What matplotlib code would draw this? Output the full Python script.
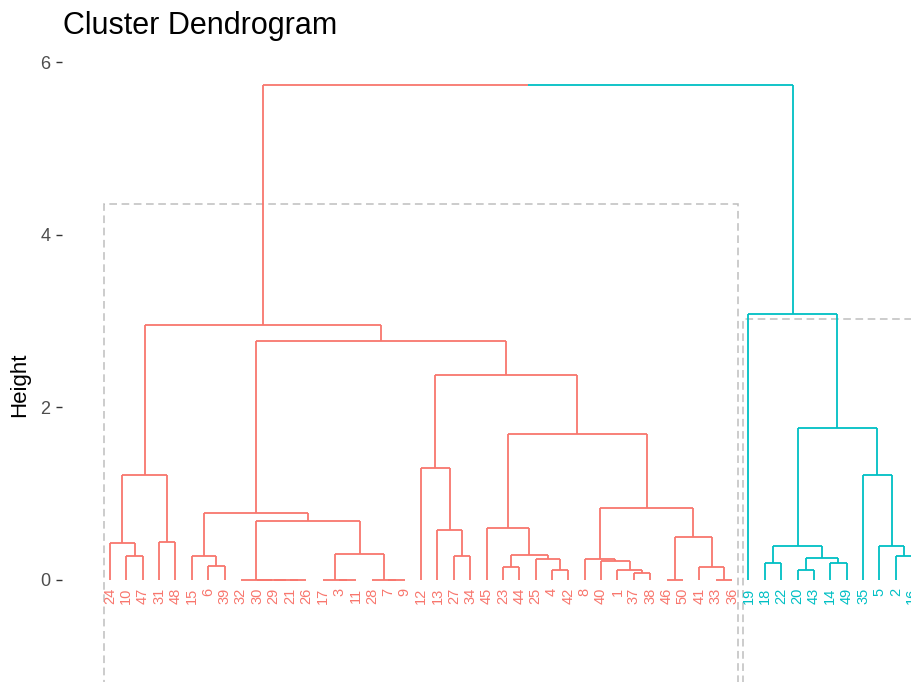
#!/usr/bin/env python3
"""
Cluster dendrogram (k = 2) with dashed boxes around each cluster.
Tree drawn from an hclust-style merge table.
"""

import matplotlib
matplotlib.use('Agg')
import matplotlib.pyplot as plt
from matplotlib.patches import Rectangle

plt.rcParams['font.family'] = ['Liberation Sans', 'DejaVu Sans']

# hclust-style merge table: negative = observation number, positive = earlier merge (1-based)
merge_pairs = [
    (-21, -26), (-29, 1), (-30, 2), (-32, 3), (-3, -11),
    (-17, 5), (-7, -9), (-28, 7), (-46, -50), (-33, -36),
    (-37, -38), (-4, -42), (-20, -43), (-1, 11), (-23, -44),
    (-41, 10), (-6, -39), (-18, -22), (-14, -49), (-40, 14),
    (-8, 20), (-25, 12), (13, 19), (-10, -47), (-15, 17),
    (-27, -34), (-2, -16), (15, 22), (6, 8), (-24, 24),
    (-31, -48), (18, 23), (-5, 27), (9, 16), (-13, 26),
    (-45, 28), (4, 29), (25, 37), (21, 34), (30, 31),
    (-35, 33), (-12, 35), (36, 39), (32, 41), (42, 43),
    (38, 45), (40, 46), (-19, 44), (47, 48),
]
merge_heights = [
    0.0, 0.0, 0.0, 0.0, 0.0,
    0.0, 0.0, 0.0, 0.0, 0.0,
    0.08, 0.115, 0.115, 0.12, 0.155,
    0.155, 0.16, 0.20, 0.20, 0.22,
    0.24, 0.24, 0.26, 0.28, 0.28,
    0.28, 0.28, 0.29, 0.30, 0.425,
    0.44, 0.39, 0.39, 0.50, 0.58,
    0.60, 0.68, 0.78, 0.84, 1.22,
    1.22, 1.30, 1.69, 1.765, 2.37,
    2.77, 2.96, 3.08, 5.74,
]

# k = 2 cut: merge ids heading each cluster, their colours and box tops
cluster_roots = [47, 48]
cluster_colors = ['#F8766D', '#00BFC4']
rect_tops = [4.36, 3.02]
y_ticks = [0, 2, 4, 6]

# pixel layout of the panel
FIG_W, FIG_H = 912, 682
LEAF1_PX, PX_PER_LEAF = 110, 16.37
ZERO_PX, PX_PER_UNIT = 580, 86.3
AX_LEFT_PX, AX_TOP_PX, AX_RIGHT_PX = 62, 40, 962


def leaves_under(node):
    """Leaf numbers below a node, left to right."""
    if node < 0:
        return [-node]
    a, b = merge_pairs[node - 1]
    return leaves_under(a) + leaves_under(b)


def draw_node(ax, node, color, xpos):
    """Draw the links below a node; returns its (x, height)."""
    if node < 0:
        return xpos[-node], 0.0
    a, b = merge_pairs[node - 1]
    h = merge_heights[node - 1]
    kids = []
    for child in (a, b):
        c_color = cluster_colors[cluster_roots.index(child)] if child in cluster_roots else color
        cx, ch = draw_node(ax, child, c_color, xpos)
        ax.plot([cx, cx], [ch, h], color=c_color, linewidth=1.3, solid_capstyle='butt')
        kids.append((cx, c_color))
    xm = (kids[0][0] + kids[1][0]) / 2
    for cx, c_color in kids:
        ax.plot([cx, xm], [h, h], color=c_color, linewidth=1.3, solid_capstyle='butt')
    return xm, h


def plot_dendrogram():
    fig = plt.figure(figsize=(FIG_W / 100, FIG_H / 100), dpi=100)
    ax = fig.add_axes([AX_LEFT_PX / FIG_W, 0,
                       (AX_RIGHT_PX - AX_LEFT_PX) / FIG_W, (FIG_H - AX_TOP_PX) / FIG_H])

    root = len(merge_pairs)
    order = leaves_under(root)
    xpos = {leaf: i + 1 for i, leaf in enumerate(order)}

    draw_node(ax, root, 'black', xpos)

    # leaf labels and cluster boxes
    for k, croot in enumerate(cluster_roots):
        members = leaves_under(croot)
        for leaf in members:
            ax.text(xpos[leaf], -0.09, str(leaf), rotation=90, ha='center', va='top',
                    fontsize=10.5, color=cluster_colors[k])
        xs = [xpos[m] for m in members]
        ax.add_patch(Rectangle((min(xs) - 0.35, -1.6), max(xs) - min(xs) + 0.7,
                               rect_tops[k] + 1.6, fill=False, edgecolor='#BEBEBE',
                               linewidth=1.1, linestyle=(0, (5, 3))))

    ax.set_xlim(1 - (LEAF1_PX - AX_LEFT_PX) / PX_PER_LEAF,
                1 + (AX_RIGHT_PX - LEAF1_PX) / PX_PER_LEAF)
    ax.set_ylim(-(FIG_H - ZERO_PX) / PX_PER_UNIT, (ZERO_PX - AX_TOP_PX) / PX_PER_UNIT)

    ax.set_xticks([])
    ax.set_yticks(y_ticks)
    ax.set_yticklabels([str(t) for t in y_ticks])
    ax.tick_params(axis='y', length=4.3, width=1, color='#333333',
                   labelcolor='#4D4D4D', labelsize=13, pad=4)
    for side in ax.spines.values():
        side.set_visible(False)
    ax.patch.set_visible(False)

    fig.text(63 / FIG_W, 1 - 26 / FIG_H, 'Cluster Dendrogram', fontsize=22,
             ha='left', va='center', color='black')
    fig.text(20 / FIG_W, 1 - 385 / FIG_H, 'Height', rotation=90, fontsize=16,
             ha='center', va='center', color='black')

    fig.savefig('out.png', dpi=100)
    plt.close(fig)


if __name__ == '__main__':
    plot_dendrogram()
